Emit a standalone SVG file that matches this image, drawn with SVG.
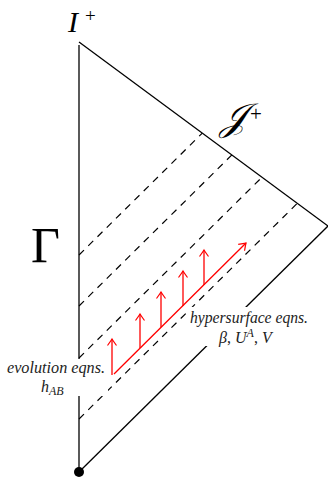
<svg xmlns="http://www.w3.org/2000/svg" width="328" height="480" viewBox="0 0 328 480">
<style>
.ln{stroke:#000;stroke-width:1.3;fill:none}
.dash{stroke:#000;stroke-width:1.2;fill:none;stroke-dasharray:7 6}
.red{stroke:#f00;stroke-width:1.3;fill:none}
.math{font-family:"Liberation Serif","DejaVu Serif",serif;font-style:italic;fill:#000}
.lbl{font-family:"Liberation Serif","DejaVu Serif",serif;font-style:italic;fill:#222;font-size:16px}
</style>
<defs>
<marker id="ah" viewBox="-8 -6 10 12" markerWidth="10" markerHeight="12" refX="0" refY="0" markerUnits="userSpaceOnUse" orient="auto">
<path d="M-6.5,-4.5 Q-2,-1.2 0,0 Q-2,1.2 -6.5,4.5" fill="none" stroke="#f00" stroke-width="1.2"/>
</marker>
</defs>
<g id="connectors">
<line class="ln" x1="79" y1="45" x2="79" y2="472"/>
<line class="ln" x1="79" y1="42" x2="328" y2="226"/>
<line class="ln" x1="79" y1="472" x2="328" y2="226"/>
<line class="dash" x1="79" y1="255" x2="202.3" y2="133.1"/>
<line class="dash" x1="79" y1="306" x2="231.9" y2="154.9"/>
<line class="dash" x1="79" y1="358" x2="262" y2="177.2"/>
<line class="dash" x1="79" y1="419" x2="297.3" y2="203.3"/>
<line class="red" x1="114" y1="374" x2="246" y2="243" marker-end="url(#ah)"/>
<line class="red" x1="112" y1="375" x2="112" y2="339" marker-end="url(#ah)"/>
<line class="red" x1="140" y1="348" x2="140" y2="314" marker-end="url(#ah)"/>
<line class="red" x1="161" y1="327" x2="161" y2="292" marker-end="url(#ah)"/>
<line class="red" x1="183" y1="306" x2="183" y2="271" marker-end="url(#ah)"/>
<line class="red" x1="204" y1="285" x2="204" y2="250" marker-end="url(#ah)"/>
</g>
<g id="origin"><circle cx="79" cy="472" r="5" fill="#000"/></g>
<g id="Iplus">
<text class="math" x="68" y="32" font-size="30">I</text>
<text x="85" y="22" font-family="Liberation Serif, serif" font-size="19">+</text>
</g>
<g id="Jplus">
<text class="math" x="220" y="130" font-size="38">𝒥</text>
<text x="250" y="121" font-family="Liberation Serif, serif" font-size="21">+</text>
</g>
<g id="Gamma">
<text x="31" y="262" font-family="Liberation Serif, serif" font-size="50">Γ</text>
</g>
<g id="evolution">
<rect x="5" y="359" width="103" height="37" fill="#fff"/>
<text class="lbl" x="7" y="373" textLength="98" lengthAdjust="spacingAndGlyphs">evolution eqns.</text>
<text class="lbl" x="41" y="392">h<tspan font-size="12" dy="3">AB</tspan></text>
</g>
<g id="hypersurface">
<rect x="187" y="307" width="124" height="39" fill="#fff"/>
<text class="lbl" x="190" y="323" textLength="118" lengthAdjust="spacingAndGlyphs">hypersurface eqns.</text>
<text class="lbl" x="219" y="343">β<tspan font-style="normal">,</tspan> U<tspan font-size="12" dy="-6">A</tspan><tspan dy="6" font-style="normal">,</tspan> V</text>
</g>
</svg>
